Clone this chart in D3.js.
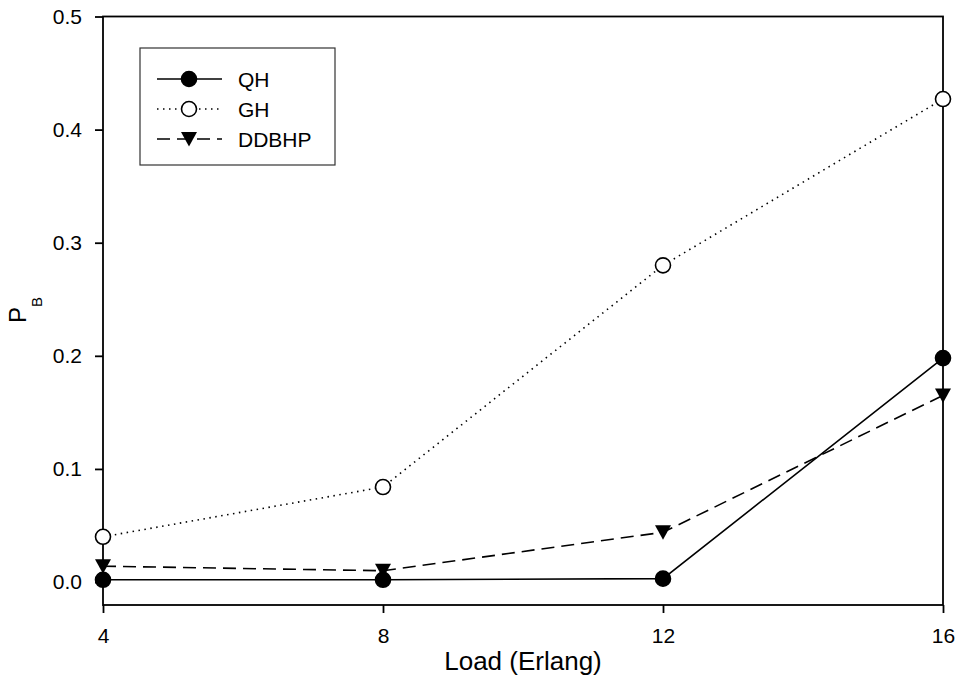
<!DOCTYPE html>
<html>
<head>
<meta charset="utf-8">
<script src="https://cdn.jsdelivr.net/npm/d3@7"></script>
<style>
  body { margin: 0; background: #fff; }
  text { font-family: "Liberation Sans", Arial, sans-serif; fill: #000; }
</style>
</head>
<body>
<script>
const width = 960;
const height = 680;

const loads = [4, 8, 12, 16];
const qh = [0.002, 0.002, 0.003, 0.198];
const gh = [0.040, 0.084, 0.280, 0.427];
const ddbhp = [0.014, 0.010, 0.044, 0.165];
const yTicks = [0.0, 0.1, 0.2, 0.3, 0.4, 0.5];

const series = [
  { name: "QH", values: qh, dash: null, marker: "filled" },
  { name: "GH", values: gh, dash: "1.5,4.5", marker: "open" },
  { name: "DDBHP", values: ddbhp, dash: "13,7", marker: "triangle" },
];

const plotLeft = 103, plotRight = 943, plotTop = 16.5, plotBottom = 605;

const x = d3.scaleLinear().domain([4, 16]).range([plotLeft, plotRight]);
const y = d3.scaleLinear().domain([-0.0203, 0.5]).range([plotBottom, plotTop]);

const svg = d3.select("body").append("svg")
  .attr("width", width)
  .attr("height", height);

// frame
svg.append("rect")
  .attr("x", plotLeft).attr("y", plotTop)
  .attr("width", plotRight - plotLeft).attr("height", plotBottom - plotTop)
  .attr("fill", "none").attr("stroke", "#000").attr("stroke-width", 1.8);

// y axis
const yAxis = d3.axisLeft(y).tickValues(yTicks).tickSize(8).tickPadding(13)
  .tickFormat(d3.format(".1f"));
const gy = svg.append("g").attr("transform", `translate(${plotLeft},0)`).call(yAxis);
gy.attr("font-size", 21);
gy.select(".domain").remove();
gy.selectAll("line").attr("stroke-width", 1.8);
gy.selectAll(".tick text").attr("font-size", 21).style("font-size", "21px");

// x axis
const xAxis = d3.axisBottom(x).tickValues(loads).tickSize(8).tickPadding(15);
const gx = svg.append("g").attr("transform", `translate(0,${plotBottom})`).call(xAxis);
gx.attr("font-size", 21);
gx.select(".domain").remove();
gx.selectAll("line").attr("stroke-width", 1.8);
gx.selectAll(".tick text").attr("font-size", 21).style("font-size", "21px");

// axis titles
svg.append("text")
  .attr("x", (plotLeft + plotRight) / 2).attr("y", 670)
  .attr("text-anchor", "middle")
  .attr("font-size", 26)
  .text("Load (Erlang)");

const yl = svg.append("text")
  .attr("transform", "translate(26,310) rotate(-90)")
  .attr("text-anchor", "middle")
  .attr("font-size", 24);
yl.append("tspan").text("P");
yl.append("tspan").attr("dy", 16).attr("font-size", 15).text("B");

const line = d3.line().x((d, i) => x(loads[i])).y((d) => y(d));

function drawMarker(g, type, cx, cy) {
  if (type === "triangle") {
    g.append("path")
      .attr("d", `M${cx - 8},${cy - 7}L${cx + 8},${cy - 7}L${cx},${cy + 7.5}Z`)
      .attr("fill", "#000");
  } else {
    g.append("circle")
      .attr("cx", cx).attr("cy", cy).attr("r", 7.5)
      .attr("fill", type === "filled" ? "#000" : "#fff")
      .attr("stroke", "#000").attr("stroke-width", 1.6);
  }
}

// lines first, then markers (open circles sit on top)
series.forEach((s) => {
  svg.append("path")
    .datum(s.values)
    .attr("d", line)
    .attr("fill", "none")
    .attr("stroke", "#000")
    .attr("stroke-width", 1.6)
    .attr("stroke-dasharray", s.dash);
});
series.forEach((s) => {
  const g = svg.append("g");
  s.values.forEach((v, i) => drawMarker(g, s.marker, x(loads[i]), y(v)));
});

// legend
const lg = svg.append("g");
lg.append("rect")
  .attr("x", 140).attr("y", 48).attr("width", 195).attr("height", 117)
  .attr("fill", "#fff").attr("stroke", "#333").attr("stroke-width", 1.2);
series.forEach((s, i) => {
  const ly = 79 + i * 30;
  lg.append("line")
    .attr("x1", 157).attr("x2", 222).attr("y1", ly).attr("y2", ly)
    .attr("stroke", "#000").attr("stroke-width", 1.6)
    .attr("stroke-dasharray", s.dash);
  drawMarker(lg, s.marker, 189, ly);
  lg.append("text")
    .attr("x", 238).attr("y", ly + 7.5)
    .attr("font-size", 21)
    .text(s.name);
});
</script>
</body>
</html>
